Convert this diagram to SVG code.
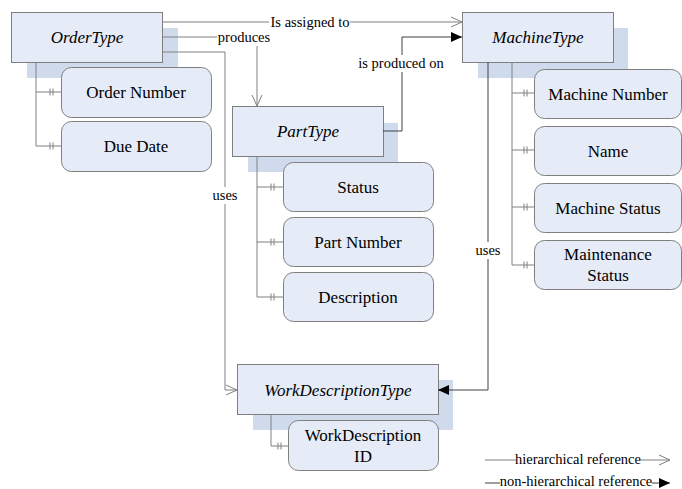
<svg xmlns="http://www.w3.org/2000/svg" width="682" height="489" viewBox="0 0 682 489">
<defs>
<style>
.shadow{fill:#cfdaed;stroke:none}
.ent{fill:#e6ecf7;stroke:#7f7f7f;stroke-width:1}
.att{fill:#e6ecf7;stroke:#7f7f7f;stroke-width:1}
text{font-family:'Liberation Serif','Times New Roman',serif;fill:#000;text-anchor:middle}
.et{font-style:italic;font-size:17px}
.at{font-size:17px}
.lb{font-size:14.5px}
.ln{fill:none;stroke:#808080;stroke-width:1}
.dk{fill:none;stroke:#404040;stroke-width:1}
</style>
<marker id="open" markerUnits="userSpaceOnUse" markerWidth="14" markerHeight="14" viewBox="-12 -7 14 14" refX="0" refY="0" orient="auto">
<path d="M-11,-5 L0,0 L-11,5" fill="none" stroke="#808080" stroke-width="1"/>
</marker>
<marker id="fill" markerUnits="userSpaceOnUse" markerWidth="14" markerHeight="14" viewBox="-12 -7 14 14" refX="0" refY="0" orient="auto">
<path d="M-11,-5 L0,0 L-11,5 Z" fill="#000" stroke="none"/>
</marker>
</defs>
<rect width="682" height="489" fill="#fff"/>

<g id="OrderType">
<rect class="shadow" x="27" y="28" width="151" height="50"/>
<rect class="ent" x="11.5" y="12.5" width="151" height="50"/>
<text class="et" x="87" y="43">OrderType</text>
<path class="ln" d="M36,62 V146 M36,92 H61 M36,146 H61 M50,88.5 V95.5 M53,88.5 V95.5 M50,142.5 V149.5 M53,142.5 V149.5"/>
</g>
<g id="OrderNumber">
<rect class="att" x="61.5" y="67.5" width="150" height="50" rx="10"/>
<text class="at" x="136" y="98">Order Number</text>
</g>
<g id="DueDate">
<rect class="att" x="61.5" y="121.5" width="150" height="50" rx="10"/>
<text class="at" x="136" y="152">Due Date</text>
</g>

<g id="PartType">
<rect class="shadow" x="248" y="123" width="150" height="49"/>
<rect class="ent" x="232.5" y="106.5" width="151" height="50"/>
<text class="et" x="308" y="137">PartType</text>
<path class="ln" d="M257,156 V297 M257,187 H283 M257,242 H283 M257,297 H283 M271,183.5 V190.5 M274,183.5 V190.5 M271,238.5 V245.5 M274,238.5 V245.5 M271,293.5 V300.5 M274,293.5 V300.5"/>
</g>
<g id="Status">
<rect class="att" x="283.5" y="162.5" width="150" height="49" rx="10"/>
<text class="at" x="358" y="193">Status</text>
</g>
<g id="PartNumber">
<rect class="att" x="283.5" y="217.5" width="150" height="49" rx="10"/>
<text class="at" x="358" y="248">Part Number</text>
</g>
<g id="Description">
<rect class="att" x="283.5" y="272.5" width="150" height="49" rx="10"/>
<text class="at" x="358" y="303">Description</text>
</g>

<g id="MachineType">
<rect class="shadow" x="478" y="28" width="150" height="50"/>
<rect class="ent" x="462.5" y="12.5" width="151" height="50"/>
<text class="et" x="538" y="43">MachineType</text>
<path class="ln" d="M512,62 V265 M512,93 H534 M512,150 H534 M512,207 H534 M512,265 H534 M524,89.5 V96.5 M527,89.5 V96.5 M524,146.5 V153.5 M527,146.5 V153.5 M524,203.5 V210.5 M527,203.5 V210.5 M524,261.5 V268.5 M527,261.5 V268.5"/>
</g>
<g id="MachineNumber">
<rect class="att" x="534.5" y="69.5" width="147" height="49" rx="10"/>
<text class="at" x="608" y="100">Machine Number</text>
</g>
<g id="Name">
<rect class="att" x="534.5" y="126.5" width="147" height="49" rx="10"/>
<text class="at" x="608" y="157">Name</text>
</g>
<g id="MachineStatus">
<rect class="att" x="534.5" y="183.5" width="147" height="49" rx="10"/>
<text class="at" x="608" y="214">Machine Status</text>
</g>
<g id="MaintenanceStatus">
<rect class="att" x="534.5" y="240.5" width="147" height="49" rx="10"/>
<text class="at" x="608" y="260">Maintenance</text>
<text class="at" x="608" y="281">Status</text>
</g>

<g id="WorkDescriptionType">
<rect class="shadow" x="253" y="380" width="200" height="50"/>
<rect class="ent" x="237.5" y="364.5" width="201" height="50"/>
<text class="et" x="338" y="396">WorkDescriptionType</text>
<path class="ln" d="M271,414 V446 H288 M278,442.5 V449.5 M281,442.5 V449.5"/>
</g>
<g id="WorkDescriptionID">
<rect class="att" x="288.5" y="420.5" width="150" height="50" rx="10"/>
<text class="at" x="363" y="441">WorkDescription</text>
<text class="at" x="363" y="462">ID</text>
</g>

<g id="connectors">
<path class="ln" d="M162,22 H269"/>
<path class="ln" d="M350,22 H462" marker-end="url(#open)"/>
<text class="lb" x="310" y="27">Is assigned to</text>

<path class="ln" d="M162,37 H217"/>
<path class="ln" d="M257,46 V106" marker-end="url(#open)"/>
<text class="lb" x="244" y="42">produces</text>

<path class="ln" d="M162,52 H225 V187"/>
<path class="ln" d="M225,204 V390 H237" marker-end="url(#open)"/>
<text class="lb" x="225" y="200">uses</text>

<path class="dk" d="M383,131 H402 V72"/>
<path class="dk" d="M402,55 V37 H462" marker-end="url(#fill)"/>
<text class="lb" x="401" y="68">is produced on</text>

<path class="dk" d="M488,62 V242"/>
<path class="dk" d="M488,259 V390 H438" marker-end="url(#fill)"/>
<text class="lb" x="488" y="255">uses</text>

<path class="ln" d="M485,460 H516"/>
<text class="lb" x="578" y="464">hierarchical reference</text>
<path class="ln" d="M640,460 H670" marker-end="url(#open)"/>
<path class="dk" d="M485,483 H500"/>
<text class="lb" x="576" y="486">non-hierarchical reference</text>
<path class="dk" d="M652,483 H670" marker-end="url(#fill)"/>
</g>
</svg>
